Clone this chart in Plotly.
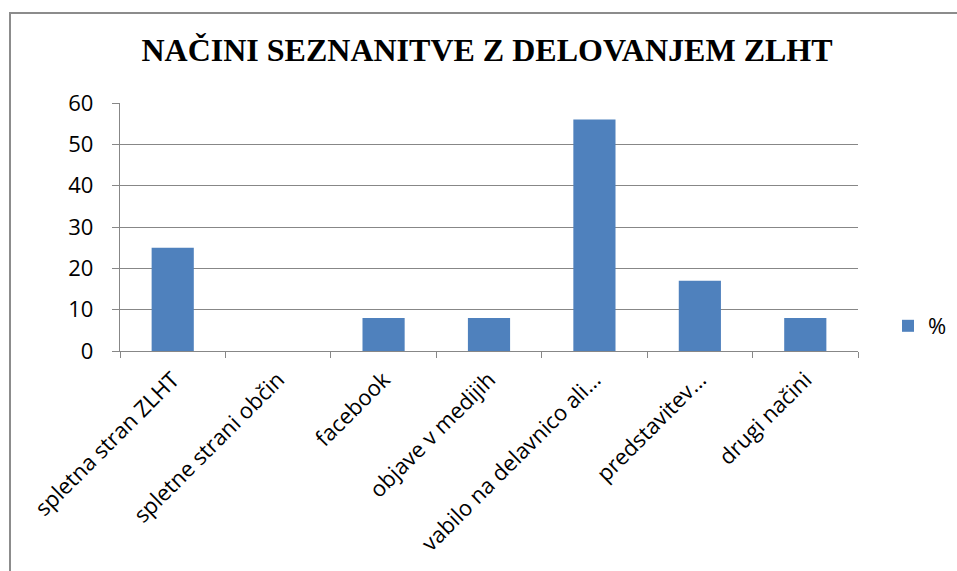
import plotly.graph_objects as go

categories = ["spletna stran ZLHT", "spletne strani občin", "facebook", "objave v medijih",
              "vabilo na delavnico ali...", "predstavitev...", "drugi načini"]
values = [25, 0, 8, 8, 56, 17, 8]
series_name = "%"
title_text = "NAČINI SEZNANITVE Z DELOVANJEM ZLHT"

W, H = 957, 571
ml, mr, mt, mb = 120, 99, 103, 220
pw, ph = W - ml - mr, H - mt - mb

def px_x(px):
    return (px - ml) / pw

def px_y(py):
    return (H - mb - py) / ph

fig = go.Figure()
fig.add_trace(go.Bar(x=categories, y=values, name=series_name,
                     marker=dict(color="#4F81BD", line=dict(color="#4F81BD", width=0))))

grid = "#878787"
font_fam = "Open Sans, Lato, sans-serif"
fs = 22
fig.update_layout(
    width=W, height=H,
    margin=dict(l=ml, r=mr, t=mt, b=mb, autoexpand=False),
    paper_bgcolor="white", plot_bgcolor="white",
    bargap=0.6,
    showlegend=True,
    title=dict(text="<b>" + title_text + "</b>", x=px_x(487), xref="paper", xanchor="center",
               y=1 - 50 / H, yanchor="middle",
               font=dict(family="Liberation Serif, Times New Roman, serif", size=32, color="black")),
    legend=dict(x=px_x(888), y=px_y(326), xanchor="left", yanchor="middle",
                font=dict(family=font_fam, size=fs, color="black"),
                itemwidth=30, bgcolor="rgba(0,0,0,0)"),
    font=dict(family=font_fam, size=fs, color="black"),
)
fig.update_xaxes(showline=True, linecolor=grid, linewidth=1.3,
                 ticks="outside", ticklen=6, tickcolor=grid, tickwidth=1.3,
                 tickson="boundaries", tickangle=-45, ticklabelstandoff=6,
                 tickfont=dict(family=font_fam, size=fs, color="black"),
                 showgrid=False)
fig.update_yaxes(range=[0, 60], dtick=10, showline=True, linecolor=grid, linewidth=1.3,
                 ticks="outside", ticklen=7, tickcolor=grid, tickwidth=1.3,
                 ticklabelstandoff=14,
                 showgrid=True, gridcolor=grid, gridwidth=1.3, zeroline=False,
                 tickfont=dict(family=font_fam, size=fs, color="black"))

fig.add_shape(type="rect", xref="paper", yref="paper",
              x0=px_x(10), x1=px_x(975), y0=px_y(590), y1=px_y(13),
              line=dict(color="#8C8C8C", width=2), fillcolor="rgba(0,0,0,0)", layer="below")

fig.write_html("out.html", config={"displayModeBar": False},
               post_script="document.body.style.margin='0';document.body.style.overflow='hidden';")
